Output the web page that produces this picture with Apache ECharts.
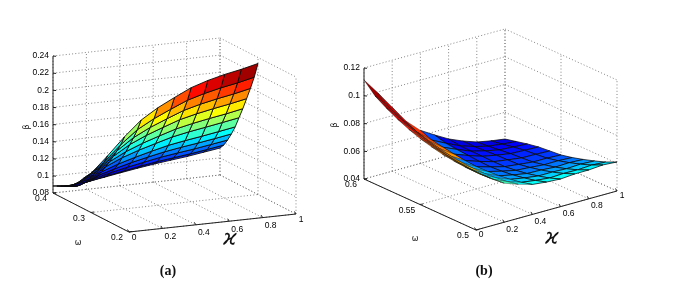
<!DOCTYPE html>
<html><head><meta charset="utf-8">
<style>html,body{margin:0;padding:0;background:#fff}#c{width:678px;height:283px}</style>
<script src="https://cdn.jsdelivr.net/npm/echarts@6/dist/echarts.min.js"></script></head>
<body><div id="c"></div>
<script>
// ---- data: rows = kappa 0..1 step .1, columns = omega steps ----
const kappaMesh = [0,0.1,0.2,0.3,0.4,0.5,0.6,0.7,0.8,0.9,1];
const omegaMeshA = [0.4,0.39,0.38,0.37,0.36,0.35,0.34,0.33,0.32,0.31,0.3];
const omegaMeshB = [0.6,0.59,0.58,0.57,0.56,0.55,0.54,0.53,0.52,0.51,0.5];
const betaA = [
[.0882,.0904,.0926,.0948,.0976,.1006,.1045,.1095,.1153,.1197,.1256],
[.0864,.0879,.0906,.0945,.1000,.1056,.1125,.1192,.1264,.1344,.1442],
[.0886,.0921,.0973,.1030,.1097,.1177,.1257,.1343,.1431,.1526,.1641],
[.0917,.0959,.1020,.1088,.1167,.1263,.1357,.1462,.1566,.1681,.1816],
[.0950,.0996,.1063,.1139,.1224,.1330,.1434,.1549,.1664,.1789,.1939],
[.0981,.1031,.1101,.1183,.1275,.1387,.1498,.1621,.1744,.1878,.2038],
[.1010,.1063,.1138,.1224,.1322,.1442,.1559,.1690,.1820,.1962,.2132],
[.1034,.1088,.1166,.1256,.1356,.1481,.1602,.1737,.1872,.2019,.2195],
[.1057,.1113,.1192,.1284,.1386,.1514,.1639,.1776,.1914,.2065,.2244],
[.1086,.1142,.1223,.1315,.1419,.1548,.1672,.1811,.1950,.2102,.2283],
[.1115,.1173,.1254,.1348,.1453,.1583,.1711,.1851,.1993,.2147,.2330]];
const betaB = [
[.1114,.1034,.0984,.0941,.0905,.0876,.0854,.0836,.0825,.0818,.0818],
[.0991,.0922,.0878,.0841,.0809,.0784,.0767,.0753,.0746,.0742,.0746],
[.0861,.0803,.0768,.0738,.0713,.0693,.0680,.0673,.0670,.0673,.0681],
[.0732,.0688,.0664,.0644,.0627,.0616,.0612,.0612,.0618,.0628,.0645],
[.0638,.0605,.0590,.0577,.0567,.0560,.0562,.0568,.0579,.0594,.0616],
[.0577,.0554,.0546,.0539,.0533,.0530,.0536,.0546,.0561,.0580,.0605],
[.0520,.0507,.0505,.0505,.0503,.0504,.0514,.0528,.0547,.0569,.0599],
[.0477,.0474,.0480,.0485,.0488,.0492,.0507,.0525,.0547,.0574,.0607],
[.0442,.0448,.0458,.0468,.0474,.0481,.0498,.0518,.0543,.0572,.0608],
[.0422,.0435,.0451,.0464,.0472,.0481,.0499,.0522,.0548,.0578,.0616],
[.0407,.0426,.0445,.0460,.0468,.0476,.0494,.0517,.0543,.0572,.0609]];
// colour level of each mesh cell of (b), on the 0..1 colour scale
const shadeB = [
[.97,.95,.90,.85,.82,.78,.75,.72,.68,.63],
[.93,.90,.85,.82,.78,.75,.72,.68,.65,.62],
[.88,.84,.80,.77,.74,.70,.67,.33,.38,.44],
[.83,.80,.76,.73,.26,.29,.32,.28,.33,.38],
[.20,.22,.23,.16,.18,.21,.24,.28,.33,.38],
[.10,.12,.14,.16,.18,.21,.24,.28,.33,.38],
[.10,.12,.14,.16,.18,.21,.24,.28,.33,.38],
[.10,.12,.14,.16,.18,.21,.24,.28,.33,.37],
[.10,.12,.14,.16,.18,.21,.24,.28,.32,.36],
[.10,.12,.14,.16,.18,.21,.24,.27,.31,.35]];
const kappaTicks = [0,0.2,0.4,0.6,0.8,1];
const omegaTicksA = [0.4,0.3,0.2];
const omegaTicksB = [0.6,0.55,0.5];
const betaTicksA = [0.08,0.1,0.12,0.14,0.16,0.18,0.2,0.22,0.24];
const betaTicksB = [0.04,0.06,0.08,0.1,0.12];

// ---- view of each 3-D box: where the box's left corner falls and how each axis runs ----
const viewA = {origin:[53,193], k:[167,-18], w:[76,39], b:[0,-137], wr:[0.4,0.2], br:[0.08,0.24],
  om:omegaMeshA, beta:betaA, wt:omegaTicksA, bt:betaTicksA, mesh:0.9, thinBelow:-1,
  betaName:[27,127], omegaName:[78,243], kappaName:[230,240], panel:'(a)', panelAt:[168,271],
  kOff:[8,8], wOff:[-12,6]};
const viewB = {origin:[364,179], k:[141,-39], w:[112,51], b:[0,-111], wr:[0.6,0.5], br:[0.04,0.12],
  om:omegaMeshB, beta:betaB, shade:shadeB, wt:omegaTicksB, bt:betaTicksB, mesh:0.75, thinBelow:4,
  betaName:[335,125], omegaName:[415,239], kappaName:[552,239], panel:'(b)', panelAt:[484,271],
  kOff:[8,7], wOff:[-13,6]};

function project(v,k,w,b){
  const f=(w-v.wr[0])/(v.wr[1]-v.wr[0]), z=(b-v.br[0])/(v.br[1]-v.br[0]);
  return [v.origin[0]+v.k[0]*k+v.w[0]*f+v.b[0]*z, v.origin[1]+v.k[1]*k+v.w[1]*f+v.b[1]*z];
}
function jet(t){
  t=Math.max(0,Math.min(1,t));
  const c=x=>Math.round(255*Math.max(0,Math.min(1,1.5-Math.abs(4*t-x))));
  return 'rgb('+c(3)+','+c(2)+','+c(1)+')';
}
const FONT='"Liberation Sans",Arial,sans-serif', TXT='#000';

function segs(v){
  const out=[]; const [w0,w1]=[v.wr[0],v.wr[1]], [b0,b1]=[v.br[0],v.br[1]];
  const dot=(a,c)=>out.push({t:'dot',a,c});
  const P=(k,w,b)=>project(v,k,w,b);
  v.bt.forEach(b=>{dot(P(0,w0,b),P(1,w0,b));dot(P(1,w0,b),P(1,w1,b));});
  kappaTicks.forEach(k=>{dot(P(k,w0,b0),P(k,w0,b1));dot(P(k,w0,b0),P(k,w1,b0));});
  v.wt.forEach(w=>{dot(P(1,w,b0),P(1,w,b1));dot(P(0,w,b0),P(1,w,b0));});
  const solid=(a,c)=>out.push({t:'solid',a,c});
  solid(P(0,w0,b0),P(0,w0,b1));
  solid(P(0,w0,b0),P(0,w1,b0));
  solid(P(0,w1,b0),P(1,w1,b0));
  v.bt.forEach(b=>{const a=P(0,w0,b);solid(a,[a[0]+3,a[1]+0.3]);
    out.push({t:'text',at:[a[0]-4,a[1]],s:String(b),align:'right'});});
  kappaTicks.forEach(k=>{const a=P(k,w1,b0);solid(a,[a[0]-1.5,a[1]-2.5]);
    out.push({t:'text',at:[a[0]+v.kOff[0]-(k%1===0?3:0),a[1]+v.kOff[1]-(k%1===0?2:0)],s:String(k),align:'center'});});
  v.wt.forEach(w=>{const a=P(0,w,b0);solid(a,[a[0]+3,a[1]-0.5]);
    out.push({t:'text',at:[a[0]+v.wOff[0],a[1]+v.wOff[1]],s:String(w),align:'center'});});
  return out;
}
function quads(v){
  const all=v.beta.flat(), mn=Math.min(...all), mx=Math.max(...all), out=[];
  const n=kappaMesh.length;
  for(let j=0;j<n-1;j++) for(let i=n-2;i>=0;i--){
    const pts=[[i,j],[i+1,j],[i+1,j+1],[i,j+1]].map(([a,c])=>project(v,kappaMesh[a],v.om[c],v.beta[a][c]));
    const lo=v.om[j]<v.om[j+1]?j:j+1;
    const t=v.shade?v.shade[i][j]:(v.beta[i][lo]-mn)/(mx-mn);
    out.push({pts,col:jet(t),lw:i<v.thinBelow?0.35:v.mesh});
  }
  return out;
}
function frameSeries(v){
  const items=segs(v);
  return {type:'custom',coordinateSystem:'cartesian2d',silent:true,z:1,clip:false,
    data:items.map((_,i)=>[i]),
    renderItem:(p,api)=>{
      const it=items[p.dataIndex];
      if(it.t==='text'){const a=api.coord(it.at);
        return {type:'text',style:{x:a[0],y:a[1],text:it.s,align:it.align,verticalAlign:'middle',font:'8.5px '+FONT,fill:TXT}};}
      const a=api.coord(it.a),c=api.coord(it.c);
      return {type:'line',shape:{x1:a[0],y1:a[1],x2:c[0],y2:c[1]},
        style:it.t==='dot'?{stroke:'#777',lineWidth:0.9,lineDash:[1,2.2]}:{stroke:'#222',lineWidth:1}};
    }};
}
function surfSeries(v){
  const items=quads(v);
  return {type:'custom',coordinateSystem:'cartesian2d',silent:true,z:2,clip:false,
    data:items.map((_,i)=>[i]),
    renderItem:(p,api)=>{
      const it=items[p.dataIndex];
      return {type:'polygon',shape:{points:it.pts.map(q=>api.coord(q))},
        style:{fill:it.col,stroke:'#0a0a0a',lineWidth:it.lw,lineJoin:'round'}};
    }};
}
function nameSeries(v){
  const items=[
    {s:'β',at:v.betaName,font:'8px "DejaVu Sans"',rot:Math.PI/2},
    {s:'ω',at:v.omegaName,font:'8px "DejaVu Sans"',rot:0},
    {s:'ϰ',at:v.kappaName,font:'italic 21px "DejaVu Sans"',rot:0},
    {s:v.panel,at:v.panelAt,font:'bold 14px "Liberation Serif"',rot:0}];
  return {type:'custom',coordinateSystem:'cartesian2d',silent:true,z:3,clip:false,
    data:items.map((_,i)=>[i]),
    renderItem:(p,api)=>{
      const it=items[p.dataIndex],a=api.coord(it.at);
      return {type:'text',x:a[0],y:a[1],rotation:it.rot,
        style:{x:0,y:0,text:it.s,align:'center',verticalAlign:'middle',font:it.font,fill:'#111'}};
    }};
}
const chart=echarts.init(document.getElementById('c'),null,{renderer:'canvas'});
chart.setOption({
  animation:false,backgroundColor:'#fff',
  grid:{left:0,right:0,top:0,bottom:0},
  xAxis:{type:'value',min:0,max:678,show:false},
  yAxis:{type:'value',min:0,max:283,inverse:true,show:false},
  series:[frameSeries(viewA),surfSeries(viewA),nameSeries(viewA),
          frameSeries(viewB),surfSeries(viewB),nameSeries(viewB)]
});
</script></body></html>
